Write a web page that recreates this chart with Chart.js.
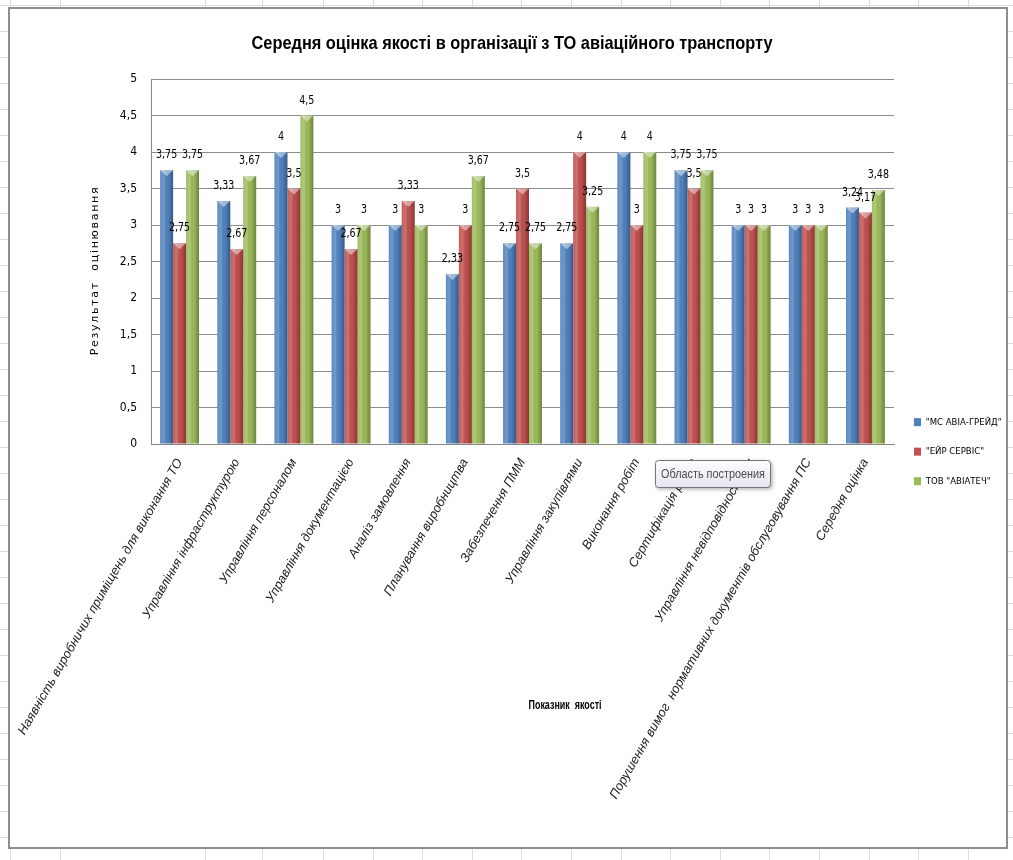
<!DOCTYPE html>
<html>
<head>
<meta charset="utf-8">
<script src="https://cdn.jsdelivr.net/npm/chart.js@4/dist/chart.umd.min.js"></script>
<style>
  html, body { margin: 0; padding: 0; }
  body { width: 1013px; height: 860px; position: relative; overflow: hidden; background: #fff; }
  .sheet-line { position: absolute; background: #dcdcdc; }
  #frame { position: absolute; left: 8px; top: 7px; width: 1000px; height: 842px; box-sizing: border-box;
           border: 2px solid #8e8e8e; background: #fff; }
  #frame canvas { display: block; }
</style>
</head>
<body>
<div id="frame"><canvas id="chart" width="996" height="838"></canvas></div>
<script>
// Quality indicators (categories)
const categories = [
  'Наявність виробничих приміщень для виконання ТО',
  'Управління інфраструктурою',
  'Управління персоналом',
  'Управління документацією',
  'Аналіз замовлення',
  'Планування виробництва',
  'Забезпечення ПММ',
  'Управління закупівлями',
  'Виконання робіт',
  'Сертифікація робіт',
  'Управління невідповідностями',
  'Порушення вимог  нормативних документів обслуговування ПС',
  'Середня оцінка'
];

// Organisations
const seriesNames = ['"МС АВІА-ГРЕЙД"', '"ЕЙР СЕРВІС"', 'ТОВ "АВІАТЕЧ"'];

// Average scores per indicator
const msAviaGrade = [3.75, 3.33, 4.0, 3.0, 3.0, 2.33, 2.75, 2.75, 4.0, 3.75, 3.0, 3.0, 3.24];
const airService  = [2.75, 2.67, 3.5, 2.67, 3.33, 3.0, 3.5, 4.0, 3.0, 3.5, 3.0, 3.0, 3.17];
const aviatech    = [3.75, 3.67, 4.5, 3.0, 3.0, 3.67, 2.75, 3.25, 4.0, 3.75, 3.0, 3.0, 3.48];

// Value axis
const yMin = 0, yMax = 5, yStep = 0.5;

const chartTitle = 'Середня оцінка якості в організації з ТО авіаційного транспорту';
const yTitle = 'Результат  оцінювання';
const xTitle = 'Показник  якості';
const hintText = 'Область построения';

const seriesColors = ['#4f81bd', '#c0504d', '#9bbb59'];

const NARROW = '"Liberation Sans Narrow", "DejaVu Sans Condensed", "Arial Narrow", sans-serif';
const fmt = v => String(v).replace('.', ',');

// faint worksheet grid behind the chart frame
(function sheetGrid() {
  const cols = [10, 60, 205, 262];
  for (let x = 323; x < 1013; x += 49.6) cols.push(Math.round(x));
  cols.forEach(x => {
    const d = document.createElement('div');
    d.className = 'sheet-line';
    d.style.cssText = `left:${x}px;top:0;width:1px;height:860px;`;
    document.body.insertBefore(d, document.body.firstChild);
  });
  for (let y = 5; y < 860; y += 26) {
    const d = document.createElement('div');
    d.className = 'sheet-line';
    d.style.cssText = `left:0;top:${y}px;width:1013px;height:1px;`;
    document.body.insertBefore(d, document.body.firstChild);
  }
})();

// draw text squeezed horizontally to a target width
function fitText(ctx, text, x, y, targetWidth) {
  const w = ctx.measureText(text).width;
  const s = targetWidth ? targetWidth / w : 1;
  ctx.save();
  ctx.translate(x, y);
  ctx.scale(s, 1);
  ctx.fillText(text, 0, 0);
  ctx.restore();
}

// cylinder-like shading over each bar
const barShade = {
  id: 'barShade',
  afterDatasetsDraw(chart) {
    const ctx = chart.ctx;
    ctx.save();
    chart.data.datasets.forEach((ds, i) => {
      chart.getDatasetMeta(i).data.forEach(bar => {
        const left = bar.x - bar.width / 2, right = bar.x + bar.width / 2;
        const top = bar.y, h = bar.base - bar.y;
        const g = ctx.createLinearGradient(left, 0, right, 0);
        g.addColorStop(0, 'rgba(255,255,255,0.08)');
        g.addColorStop(0.3, 'rgba(255,255,255,0.20)');
        g.addColorStop(0.6, 'rgba(0,0,0,0)');
        g.addColorStop(1, 'rgba(0,0,0,0.30)');
        ctx.fillStyle = g;
        ctx.fillRect(left, top, right - left, h);
        ctx.beginPath();
        ctx.moveTo(left, top);
        ctx.lineTo(right, top);
        ctx.lineTo(bar.x, top + 6);
        ctx.closePath();
        ctx.fillStyle = 'rgba(255,255,255,0.45)';
        ctx.fill();
      });
    });
    ctx.restore();
  }
};

// value labels above the bars
const valueLabels = {
  id: 'valueLabels',
  afterDatasetsDraw(chart) {
    const ctx = chart.ctx;
    ctx.save();
    ctx.font = '12px ' + NARROW;
    ctx.fillStyle = '#000';
    ctx.textAlign = 'center';
    ctx.textBaseline = 'middle';
    chart.data.datasets.forEach((ds, i) => {
      chart.getDatasetMeta(i).data.forEach((bar, j) => {
        const t = fmt(ds.data[j]);
        fitText(ctx, t, bar.x, bar.y - 15, ctx.measureText(t).width * 0.88);
      });
    });
    ctx.restore();
  }
};

// chart title, axis captions and the plot-area hint box
const captions = {
  id: 'captions',
  afterDraw(chart) {
    const ctx = chart.ctx;
    const a = chart.chartArea;
    ctx.save();
    ctx.fillStyle = '#000';
    ctx.textAlign = 'center';
    ctx.textBaseline = 'middle';

    // title
    ctx.font = 'bold 19px "Liberation Sans", sans-serif';
    fitText(ctx, chartTitle, chart.width / 2 + 4, 35, 521);

    // value axis caption
    ctx.save();
    ctx.translate(a.left - 56, (a.top + a.bottom) / 2 + 9);
    ctx.rotate(-Math.PI / 2);
    ctx.font = '11px "DejaVu Sans", sans-serif';
    if ('letterSpacing' in ctx) ctx.letterSpacing = '1.7px';
    ctx.fillText(yTitle, 0, 0);
    ctx.restore();

    // category axis caption
    ctx.font = 'bold 12.5px "Liberation Sans", sans-serif';
    fitText(ctx, xTitle, a.left + 414, a.bottom + 262, 73);

    // hint box
    const bx = a.left + 504, by = a.bottom + 16, bw = 115, bh = 27, r = 3;
    ctx.save();
    ctx.shadowColor = 'rgba(0,0,0,0.35)';
    ctx.shadowBlur = 4;
    ctx.shadowOffsetX = 2;
    ctx.shadowOffsetY = 2;
    const g = ctx.createLinearGradient(0, by, 0, by + bh);
    g.addColorStop(0, '#ffffff');
    g.addColorStop(1, '#e4e5f0');
    ctx.beginPath();
    ctx.roundRect(bx, by, bw, bh, r);
    ctx.fillStyle = g;
    ctx.fill();
    ctx.restore();
    ctx.strokeStyle = '#767676';
    ctx.lineWidth = 1;
    ctx.beginPath();
    ctx.roundRect(bx + 0.5, by + 0.5, bw, bh, r);
    ctx.stroke();
    ctx.font = '13px "Liberation Sans", sans-serif';
    ctx.fillStyle = '#4c4c4c';
    ctx.textAlign = 'left';
    fitText(ctx, hintText, bx + 6, by + bh / 2 + 1, 104);
    ctx.restore();
  }
};

new Chart(document.getElementById('chart'), {
  type: 'bar',
  data: {
    labels: categories,
    datasets: [
      { label: seriesNames[0], data: msAviaGrade, backgroundColor: seriesColors[0] },
      { label: seriesNames[1], data: airService, backgroundColor: seriesColors[1] },
      { label: seriesNames[2], data: aviatech, backgroundColor: seriesColors[2] }
    ]
  },
  options: {
    responsive: false,
    animation: false,
    datasets: { bar: { categoryPercentage: 0.68, barPercentage: 1 } },
    layout: { padding: { left: 0, right: 0, top: 70, bottom: 0 } },
    plugins: {
      title: { display: false },
      legend: {
        position: 'right',
        align: 'start',
        maxWidth: 112,
        title: { display: true, text: '', padding: { top: 304, bottom: 0 } },
        labels: {
          boxWidth: 7,
          boxHeight: 8,
          padding: 20,
          color: '#000',
          font: { family: NARROW, size: 9.5 }
        }
      },
      tooltip: { enabled: false }
    },
    scales: {
      x: {
        grid: { display: false, drawTicks: false },
        border: { color: '#868686' },
        afterFit(scale) { scale.paddingLeft = 0; scale.paddingRight = 0; scale.height = 403; },
        ticks: {
          autoSkip: false,
          maxRotation: 60,
          minRotation: 60,
          padding: 12,
          color: '#222',
          font: { family: '"Liberation Sans", sans-serif', size: 12.8, style: 'italic' }
        }
      },
      y: {
        min: yMin,
        max: yMax,
        afterFit(scale) { scale.width = 141; },
        grid: { color: '#8c8c8c', drawTicks: false },
        border: { color: '#868686' },
        ticks: {
          stepSize: yStep,
          padding: 14,
          color: '#000',
          font: { family: NARROW, size: 12 },
          callback: v => fmt(v)
        }
      }
    }
  },
  plugins: [barShade, valueLabels, captions]
});
</script>
</body>
</html>
